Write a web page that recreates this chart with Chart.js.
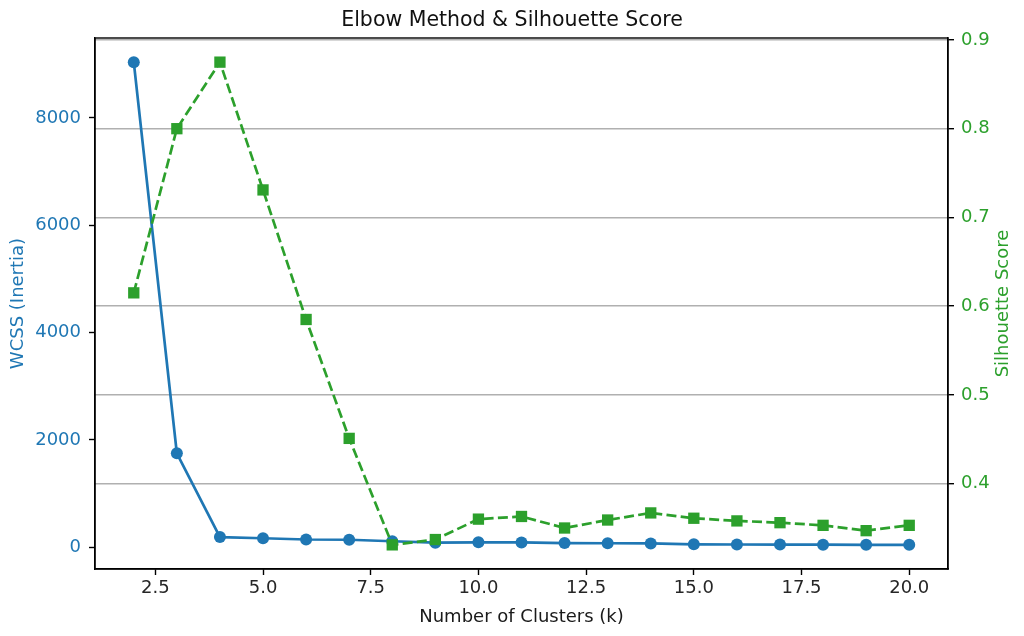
<!DOCTYPE html>
<html>
<head>
<meta charset="utf-8">
<script src="https://cdn.jsdelivr.net/npm/chart.js@4.4.1/dist/chart.umd.min.js"></script>
<style>
  html, body { margin: 0; padding: 0; background: #ffffff; }
  #wrap { width: 1024px; height: 636px; position: relative; }
</style>
</head>
<body>
<div id="wrap"><canvas id="c" width="1024" height="636"></canvas></div>
<script>
// ---- data ----
const kValues = [2, 3, 4, 5, 6, 7, 8, 9, 10, 11, 12, 13, 14, 15, 16, 17, 18, 19, 20];
const wcssValues = [9040, 1750, 190, 168, 145, 140, 112, 85, 92, 90, 78, 75, 72, 55, 52, 50, 48, 46, 45];
const silhouetteValues = [0.615, 0.800, 0.875, 0.731, 0.585, 0.451, 0.331, 0.337, 0.360, 0.363, 0.350, 0.359, 0.367, 0.361, 0.358, 0.356, 0.353, 0.347, 0.353];
const xTicks = [2.5, 5.0, 7.5, 10.0, 12.5, 15.0, 17.5, 20.0];
const wcssTicks = [0, 2000, 4000, 6000, 8000];
const silTicks = [0.4, 0.5, 0.6, 0.7, 0.8, 0.9];
const titleText = 'Elbow Method & Silhouette Score';
const xLabel = 'Number of Clusters (k)';
const yLeftLabel = 'WCSS (Inertia)';
const yRightLabel = 'Silhouette Score';

const BLUE = '#1f77b4';
const GREEN = '#2ca02c';
const FONT = "'DejaVu Sans', sans-serif";
const TICK_PX = 18;

function margins(arr) {
  const mn = Math.min(...arr), mx = Math.max(...arr);
  const m = (mx - mn) * 0.05;
  return [mn - m, mx + m];
}
const [xMin, xMax] = margins(kValues);
const [lMin, lMax] = margins(wcssValues);
const [rMin, rMax] = margins(silhouetteValues);

const frame = {
  id: 'frame',
  afterDraw(chart) {
    const {ctx, chartArea: a} = chart;
    ctx.save();
    ctx.strokeStyle = '#000';
    ctx.lineWidth = 1.4;
    ctx.strokeRect(a.left, a.top, a.right - a.left, a.bottom - a.top);
    // right axis title, reading bottom-to-top
    ctx.fillStyle = GREEN;
    ctx.font = TICK_PX + "px " + FONT;
    ctx.textAlign = 'center';
    ctx.textBaseline = 'middle';
    ctx.translate(1003.5, (a.top + a.bottom) / 2);
    ctx.rotate(-Math.PI / 2);
    ctx.fillText(yRightLabel, 0, 0);
    ctx.restore();
  }
};

new Chart(document.getElementById('c'), {
  type: 'line',
  data: {
    datasets: [
      {
        label: 'Silhouette Score',
        data: kValues.map((k, i) => ({x: k, y: silhouetteValues[i]})),
        yAxisID: 'y1',
        borderColor: GREEN,
        backgroundColor: GREEN,
        borderWidth: 2.7,
        borderDash: [10, 4.3],
        pointStyle: 'rect',
        pointRadius: 8,
        pointHoverRadius: 8,
        pointBorderWidth: 0,
        tension: 0,
        clip: false,
        order: 0
      },
      {
        label: 'WCSS',
        data: kValues.map((k, i) => ({x: k, y: wcssValues[i]})),
        yAxisID: 'y',
        borderColor: BLUE,
        backgroundColor: BLUE,
        borderWidth: 2.7,
        pointStyle: 'circle',
        pointRadius: 6,
        pointHoverRadius: 6,
        pointBorderWidth: 0,
        tension: 0,
        clip: false,
        order: 1
      }
    ]
  },
  options: {
    responsive: false,
    animation: false,
    layout: { padding: 0 },
    plugins: {
      legend: { display: false },
      tooltip: { enabled: false },
      title: {
        display: true,
        text: titleText,
        color: '#111',
        font: { family: FONT, size: 20.5, weight: 'normal' },
        padding: { top: 8, bottom: 5.4 }
      }
    },
    scales: {
      x: {
        type: 'linear',
        position: 'bottom',
        min: xMin, max: xMax,
        afterBuildTicks: (s) => { s.ticks = xTicks.map(v => ({value: v})); },
        afterFit: (s) => { s.height = 67; },
        grid: { drawOnChartArea: false, tickLength: 6, tickColor: '#000', tickWidth: 1.4 },
        border: { display: true, color: '#000', width: 1.4 },
        ticks: {
          color: '#262626',
          font: { family: FONT, size: TICK_PX },
          padding: 3,
          maxRotation: 0,
          autoSkip: false,
          callback: (v) => Number(v).toFixed(1)
        },
        title: {
          display: true, text: xLabel, color: '#1a1a1a',
          font: { family: FONT, size: TICK_PX },
          padding: { top: 4, bottom: 8 }
        }
      },
      y: {
        type: 'linear',
        position: 'left',
        min: lMin, max: lMax,
        afterBuildTicks: (s) => { s.ticks = wcssTicks.map(v => ({value: v})); },
        afterFit: (s) => { s.width = 95; },
        grid: { drawOnChartArea: false, tickLength: 6, tickColor: '#000', tickWidth: 1.4 },
        border: { display: true, color: '#000', width: 1.4 },
        ticks: {
          color: BLUE,
          font: { family: FONT, size: TICK_PX },
          padding: 8,
          autoSkip: false,
          callback: (v) => String(v)
        },
        title: {
          display: true, text: yLeftLabel, color: BLUE,
          font: { family: FONT, size: TICK_PX },
          padding: { top: 8, bottom: 4 }
        }
      },
      y1: {
        type: 'linear',
        position: 'right',
        min: rMin, max: rMax,
        afterBuildTicks: (s) => { s.ticks = silTicks.map(v => ({value: v})); },
        afterFit: (s) => { s.width = 76; },
        grid: { drawOnChartArea: true, color: '#b0b0b0', lineWidth: 1.4, tickLength: 6, tickColor: '#000', tickWidth: 1.4 },
        border: { display: true, color: '#000', width: 1.4 },
        ticks: {
          color: GREEN,
          font: { family: FONT, size: TICK_PX },
          padding: 7,
          autoSkip: false,
          callback: (v) => Number(v).toFixed(1)
        }
      }
    }
  },
  plugins: [frame]
});
</script>
</body>
</html>
